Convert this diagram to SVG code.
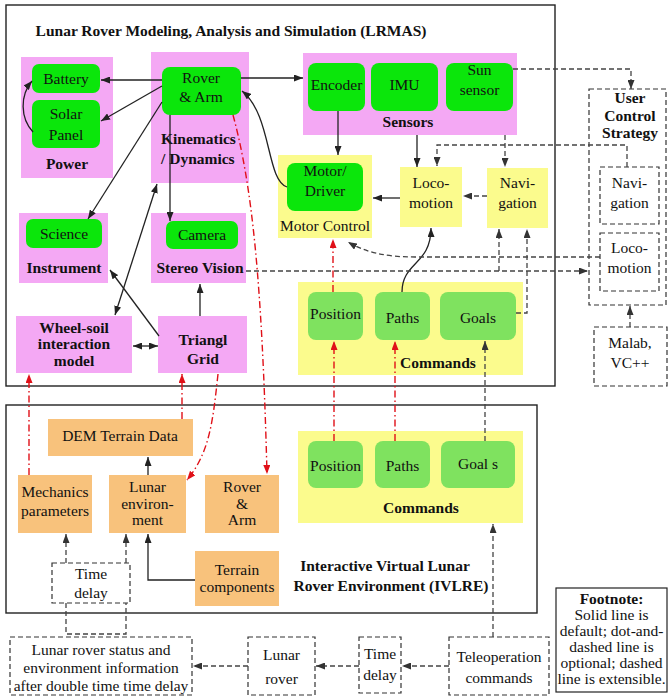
<svg xmlns="http://www.w3.org/2000/svg" width="668" height="696" viewBox="0 0 668 696">
<defs>
<style>
text{font-family:"Liberation Serif","Times New Roman",serif;font-size:15.5px;fill:#111;text-anchor:middle}
.b{font-weight:bold}
.pk{fill:#f4a8f4}
.gr{fill:#0be60b}
.lg{fill:#7fe25f}
.ye{fill:#fbfb8d}
.or{fill:#f8c27c}
.fr{fill:none;stroke:#222;stroke-width:1.4}
.db{fill:#fff;stroke:#333;stroke-width:1.2;stroke-dasharray:5,3}
.s{fill:none;stroke:#222;stroke-width:1.3;marker-end:url(#a)}
.d{fill:none;stroke:#444;stroke-width:1.3;stroke-dasharray:5,3;marker-end:url(#ad)}
.r{fill:none;stroke:#e01018;stroke-width:1.4;stroke-dasharray:7,3,1.5,3;marker-end:url(#ar)}
</style>
<marker id="a" markerUnits="userSpaceOnUse" markerWidth="9" markerHeight="7" refX="9" refY="3.5" orient="auto-start-reverse"><path d="M0,0 L9,3.5 L0,7 z" fill="#222"/></marker>
<marker id="ad" markerUnits="userSpaceOnUse" markerWidth="9" markerHeight="7" refX="9" refY="3.5" orient="auto"><path d="M0,0 L9,3.5 L0,7 z" fill="#333"/></marker>
<marker id="ar" markerUnits="userSpaceOnUse" markerWidth="9" markerHeight="7" refX="9" refY="3.5" orient="auto"><path d="M0,0 L9,3.5 L0,7 z" fill="#e01018"/></marker>
</defs>
<rect width="668" height="696" fill="#fff"/>

<g id="lrmas">
<rect class="fr" x="6" y="5" width="549" height="381"/>
<text class="b" x="231" y="36" font-size="16.5">Lunar Rover Modeling, Analysis and Simulation (LRMAS)</text>
</g>
<g id="ivlre">
<rect class="fr" x="6" y="405" width="531" height="208"/>
<text class="b" x="385" y="571">Interactive Virtual Lunar</text>
<text class="b" x="391" y="591">Rover Environment (IVLRE)</text>
</g>

<g id="power">
<rect class="pk" x="21" y="57" width="92" height="121"/>
<text class="b" x="67" y="169">Power</text>
</g>
<g id="battery"><rect class="gr" x="32" y="64" width="68" height="29" rx="7"/><text x="66" y="84">Battery</text></g>
<g id="solar"><rect class="gr" x="32" y="100" width="68" height="48" rx="7"/><text x="66" y="119">Solar</text><text x="66" y="140">Panel</text></g>

<g id="kinematics">
<rect class="pk" x="151" y="52" width="98" height="131"/>
<text class="b" x="161" y="144" style="text-anchor:start">Kinematics</text>
<text class="b" x="161" y="164" style="text-anchor:start">/ Dynamics</text>
</g>
<g id="rover"><rect class="gr" x="162" y="67" width="79" height="48" rx="8"/><text x="201" y="83">Rover</text><text x="201" y="102">&amp; Arm</text></g>

<g id="sensors">
<rect class="pk" x="303" y="53" width="214" height="82"/>
<text class="b" x="408" y="127">Sensors</text>
</g>
<g id="encoder"><rect class="gr" x="308" y="63" width="57" height="48" rx="8"/><text x="336.5" y="90">Encoder</text></g>
<g id="imu"><rect class="gr" x="371" y="63" width="67" height="48" rx="8"/><text x="404.5" y="90">IMU</text></g>
<g id="sunsensor"><rect class="gr" x="446" y="63" width="67" height="48" rx="8"/><text x="479.5" y="75">Sun</text><text x="479.5" y="95">sensor</text></g>

<g id="motorcontrol">
<rect class="ye" x="278" y="155" width="94" height="83"/>
<text x="325" y="231">Motor Control</text>
</g>
<g id="motordriver"><rect class="gr" x="287" y="163" width="76" height="48" rx="8"/><text x="325" y="176">Motor/</text><text x="325" y="196">Driver</text></g>
<g id="locomotion"><rect class="ye" x="400" y="167" width="62" height="60"/><text x="431" y="188">Loco-</text><text x="431" y="208">motion</text></g>
<g id="navigation"><rect class="ye" x="487" y="168" width="61" height="60"/><text x="517.5" y="188">Navi-</text><text x="517.5" y="208">gation</text></g>

<g id="instrument">
<rect class="pk" x="19" y="213" width="89" height="70"/>
<rect class="gr" x="26" y="219" width="76" height="29" rx="7"/>
<text x="64" y="239">Science</text>
<text class="b" x="64" y="273">Instrument</text>
</g>
<g id="stereovision">
<rect class="pk" x="151" y="213" width="95" height="70"/>
<rect class="gr" x="166" y="221" width="72" height="28" rx="7"/>
<text x="202" y="240">Camera</text>
<text class="b" x="200" y="273">Stereo Vision</text>
</g>
<g id="wheelsoil">
<rect class="pk" x="16" y="316" width="116" height="57"/>
<text class="b" x="74" y="333" font-size="14.5">Wheel-soil</text>
<text class="b" x="74" y="349" font-size="14.5">interaction</text>
<text class="b" x="74" y="366" font-size="14.5">model</text>
</g>
<g id="triangl">
<rect class="pk" x="158" y="316" width="89" height="57"/>
<text class="b" x="203" y="345" font-size="16">Triangl</text>
<text class="b" x="203" y="364" font-size="16">Grid</text>
</g>

<g id="commands1">
<rect class="ye" x="298" y="282" width="225" height="93"/>
<text class="b" x="438" y="368">Commands</text>
</g>
<g id="position1"><rect class="lg" x="308" y="292" width="55" height="48" rx="8"/><text x="335.5" y="319">Position</text></g>
<g id="paths1"><rect class="lg" x="375" y="292" width="55" height="48" rx="8"/><text x="402.5" y="323">Paths</text></g>
<g id="goals1"><rect class="lg" x="440" y="292" width="76" height="48" rx="8"/><text x="478" y="323">Goals</text></g>

<g id="usercontrol">
<rect class="db" x="589" y="89" width="77" height="216"/>
<text class="b" x="630" y="103">User</text>
<text class="b" x="630" y="121">Control</text>
<text class="b" x="630" y="138">Strategy</text>
</g>
<g id="unav"><rect class="db" x="600" y="167" width="59" height="57"/><text x="629.5" y="188">Navi-</text><text x="629.5" y="208">gation</text></g>
<g id="uloco"><rect class="db" x="600" y="233" width="59" height="58"/><text x="629.5" y="253">Loco-</text><text x="629.5" y="273">motion</text></g>
<g id="malab"><rect class="db" x="594" y="327" width="73" height="59"/><text x="630" y="348">Malab,</text><text x="630" y="368">VC++</text></g>

<g id="dem"><rect class="or" x="48" y="419" width="145" height="37"/><text x="120" y="441">DEM Terrain Data</text></g>
<g id="mechanics"><rect class="or" x="18" y="475" width="74" height="58"/><text x="55" y="497">Mechanics</text><text x="55" y="516">parameters</text></g>
<g id="lunarenv"><rect class="or" x="109" y="475" width="77" height="58"/><text x="147.5" y="492">Lunar</text><text x="147.5" y="509">environ-</text><text x="147.5" y="525">ment</text></g>
<g id="rover2"><rect class="or" x="205" y="475" width="74" height="58"/><text x="242" y="492">Rover</text><text x="242" y="509">&amp;</text><text x="242" y="525">Arm</text></g>
<g id="terrain"><rect class="or" x="195" y="551" width="84" height="55"/><text x="237" y="575">Terrain</text><text x="237" y="592">components</text></g>

<g id="commands2">
<rect class="ye" x="298" y="431" width="225" height="92"/>
<text class="b" x="421" y="513">Commands</text>
</g>
<g id="position2"><rect class="lg" x="308" y="441" width="55" height="47" rx="8"/><text x="335.5" y="471">Position</text></g>
<g id="paths2"><rect class="lg" x="375" y="441" width="55" height="47" rx="8"/><text x="402.5" y="471">Paths</text></g>
<g id="goals2"><rect class="lg" x="441" y="441" width="74" height="47" rx="8"/><text x="478" y="469">Goal s</text></g>

<g id="timedelay1"><rect class="db" x="52" y="563" width="78" height="40"/><text x="91" y="579">Time</text><text x="91" y="598">delay</text></g>
<g id="status"><rect class="db" x="10" y="637" width="182" height="58"/><text x="101" y="655">Lunar rover status and</text><text x="101" y="673">environment information</text><text x="101" y="691">after double time time delay</text></g>
<g id="lunarrover"><rect class="db" x="248" y="637" width="67" height="58"/><text x="281.5" y="660">Lunar</text><text x="281.5" y="684">rover</text></g>
<g id="timedelay2"><rect class="db" x="359" y="637" width="42" height="56"/><text x="380" y="659">Time</text><text x="380" y="680">delay</text></g>
<g id="teleop"><rect class="db" x="449" y="637" width="100" height="58"/><text x="499" y="662">Teleoperation</text><text x="499" y="683">commands</text></g>
<g id="footnote">
<rect x="556" y="588" width="111" height="104" fill="#fff" stroke="#222" stroke-width="1.2"/>
<text class="b" x="611.5" y="604" font-size="14">Footnote:</text>
<text x="611.5" y="620" font-size="14">Solid line is</text>
<text x="611.5" y="636" font-size="14">default; dot-and-</text>
<text x="611.5" y="652" font-size="14">dashed line is</text>
<text x="611.5" y="668" font-size="14">optional;  dashed</text>
<text x="611.5" y="684" font-size="14">line is extensible.</text>
</g>

<g id="connectors">
<path class="s" d="M162,80 L101,80"/>
<path class="s" d="M162,86 L101,121"/>
<path class="s" d="M33,132 C20,118 20,95 32,81"/>
<path class="s" d="M241,78 L303,78"/>
<path class="s" d="M162,102 L88,219"/>
<path class="s" d="M170,115 L170,221"/>
<path class="s" style="marker-start:url(#a)" d="M115,315 L157,184"/>
<path class="s" d="M159,336 L110,270"/>
<path class="s" style="marker-start:url(#a)" d="M133,346 L158,346"/>
<path class="s" d="M200,316 L200,284"/>
<path class="s" d="M338,111 L338,155"/>
<path class="s" d="M287,187 C266,180 272,115 242,91"/>
<path class="s" d="M417,135 L417,167"/>
<path class="s" d="M400,198 L373,198"/>
<path class="s" d="M402,292 C402,262 431,265 431,228"/>
<path class="s" d="M148,475 L148,457"/>
<path class="s" d="M195,580 L148,580 L148,534"/>

<path class="d" d="M513,69 L631,69 L631,89"/>
<path class="d" d="M627,167 L627,145 L437,145 L437,166"/>
<path class="d" d="M505,135 L505,167"/>
<path class="d" d="M487,196 L463,196"/>
<path class="d" d="M600,257 L415,257 C385,257 365,252 348,242"/>
<path class="d" d="M246,271 L588,271"/>
<path class="d" d="M499,271 L499,229"/>
<path class="d" d="M516,313 L527,313 L527,229"/>
<path class="d" d="M485,441 L485,341"/>
<path class="d" d="M493,637 L493,524"/>
<path class="d" d="M630,327 L630,306"/>
<path class="d" d="M66,563 L66,534"/>
<path class="d" d="M126,563 L126,534"/>
<path class="d" style="marker-end:none" d="M66,603 L66,634 L126,634 L126,603"/>
<path class="d" d="M449,666 L402,666"/>
<path class="d" d="M359,666 L316,666"/>
<path class="d" d="M248,666 L193,666"/>

<path class="r" d="M29,475 L29,374"/>
<path class="r" d="M182,419 L182,374"/>
<path class="r" d="M218,374 C213,420 210,452 187,480"/>
<path class="r" d="M233,115 C252,185 262,280 267,474"/>
<path class="r" d="M334,441 L334,341"/>
<path class="r" d="M395,441 L395,341"/>
<path class="r" d="M333,292 L333,239"/>
</g>
</svg>
